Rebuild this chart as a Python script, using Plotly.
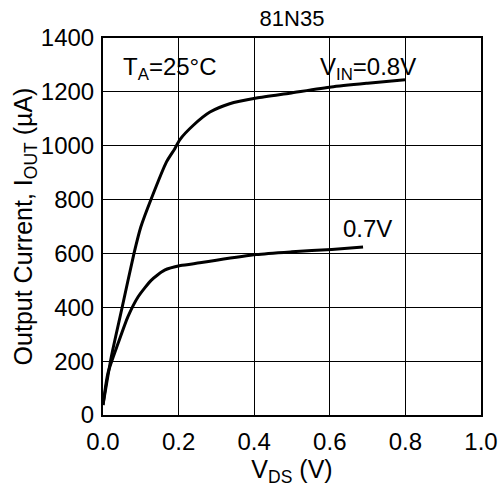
import plotly.graph_objects as go

# V_IN = 0.8 V curve
vds_08 = [0.0, 0.022, 0.049, 0.082, 0.10, 0.128, 0.168, 0.19, 0.203, 0.239, 0.283, 0.335, 0.406, 0.494, 0.604, 0.70, 0.799]
iout_08 = [37, 216, 389, 600, 698, 804, 940, 989, 1022, 1076, 1125, 1156, 1177, 1195, 1218, 1232, 1245]

# V_IN = 0.7 V curve
vds_07 = [0.0, 0.013, 0.04, 0.066, 0.093, 0.128, 0.163, 0.205, 0.256, 0.30, 0.406, 0.50, 0.605, 0.688]
iout_07 = [37, 155, 266, 365, 439, 501, 538, 555, 565, 575, 596, 606, 615, 624]

x_ticks = [0.0, 0.2, 0.4, 0.6, 0.8, 1.0]
y_ticks = [0, 200, 400, 600, 800, 1000, 1200, 1400]

font = "Liberation Sans, Arial, sans-serif"

fig = go.Figure()
fig.add_trace(go.Scatter(x=vds_08, y=iout_08, mode="lines",
                         line=dict(color="black", width=3, shape="spline", smoothing=0.6), name="0.8V"))
fig.add_trace(go.Scatter(x=vds_07, y=iout_07, mode="lines",
                         line=dict(color="black", width=3, shape="spline", smoothing=0.6), name="0.7V"))

fig.add_annotation(x=0.176, y=1287, text="T<sub>A</sub>=25°C", showarrow=False, font=dict(size=24))
fig.add_annotation(x=0.70, y=1287, text="V<sub>IN</sub>=0.8V", showarrow=False, font=dict(size=24))
fig.add_annotation(x=0.70, y=694, text="0.7V", showarrow=False, font=dict(size=24))

fig.update_layout(
    width=502, height=487,
    margin=dict(l=103, r=21, t=38, b=72),
    paper_bgcolor="white", plot_bgcolor="white",
    font=dict(family=font, color="black", size=24),
    showlegend=False,
    title=dict(text="81N35", x=0.5, xref="paper", xanchor="center", y=0.962, yanchor="middle", font=dict(size=22)),
    xaxis=dict(
        range=[0, 1.0], tickvals=x_ticks, ticktext=["0.0", "0.2", "0.4", "0.6", "0.8", "1.0"],
        showgrid=True, gridcolor="black", gridwidth=1, zeroline=False,
        showline=True, linecolor="black", linewidth=2, mirror=True,
        ticks="", ticklabelstandoff=4, automargin=False,
        title=dict(text="V<sub>DS</sub> (V)", standoff=6, font=dict(size=25)),
    ),
    yaxis=dict(
        range=[0, 1400], tickvals=y_ticks,
        showgrid=True, gridcolor="black", gridwidth=1, zeroline=False,
        showline=True, linecolor="black", linewidth=2, mirror=True,
        ticks="", ticklabelstandoff=2, automargin=False,
        title=dict(text="Output Current, I<sub>OUT</sub> (µA)", standoff=0, font=dict(size=25)),
    ),
)

# drop the default page margin so the figure fills the window
fig.write_html("out.html", config={"displayModeBar": False},
               post_script="document.body.style.margin='0';document.body.style.overflow='hidden';")
